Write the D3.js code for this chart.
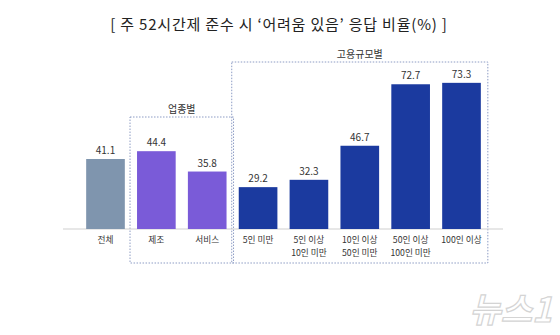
<!DOCTYPE html>
<html><head><meta charset="utf-8">
<script src="https://cdn.jsdelivr.net/npm/d3@7"></script>
<style>body{margin:0;background:#fff}svg{display:block}</style>
</head><body>
<svg id="c" width="560" height="335"></svg>
<script>
const title = "[ 주 52시간제 준수 시 ‘어려움 있음’ 응답 비율(%) ]";
const categories = ["전체", "제조", "서비스", "5인 미만", "5인 이상\n10인 미만", "10인 이상\n50인 미만", "50인 이상\n100인 미만", "100인 이상"];
const values = [41.1, 44.4, 35.8, 29.2, 32.3, 46.7, 72.7, 73.3];
const groups = ["전체", "업종별", "업종별", "고용규모별", "고용규모별", "고용규모별", "고용규모별", "고용규모별"];
const groupColors = {"전체": "#7f95ae", "업종별": "#7a5bd8", "고용규모별": "#1b3a9f"};

const svg = d3.select("#c");
const font = "'Noto Sans CJK KR', 'Noto Sans', sans-serif";

svg.append("text").attr("x", 279).attr("y", 30).attr("text-anchor", "middle")
  .attr("font-family", font).attr("font-size", 15).attr("letter-spacing", 0.8)
  .attr("fill", "#222").text(title);

const x = d3.scaleBand().domain(categories).range([76, 491]).paddingInner(0.24).paddingOuter(0.2);
const y = d3.scaleLinear().domain([11.5, 80]).range([229, 67]);

// group boxes
const boxes = [
  {name: "업종별", cats: ["제조", "서비스"], top: 117},
  {name: "고용규모별", cats: categories.slice(3), top: 62}
];
boxes.forEach(b => {
  const x0 = x(b.cats[0]) - 7, x1 = x(b.cats[b.cats.length - 1]) + x.bandwidth() + 7;
  svg.append("rect").attr("x", x0).attr("y", b.top).attr("width", x1 - x0).attr("height", 263 - b.top)
    .attr("fill", "none").attr("stroke", "#8d9cc4").attr("stroke-width", 1).attr("stroke-dasharray", "1.5,1.5");
  svg.append("text").attr("x", (x0 + x1) / 2).attr("y", b.top - 4).attr("text-anchor", "middle")
    .attr("font-family", font).attr("font-size", 10).attr("fill", "#333").text(b.name);
});

// baseline
svg.append("line").attr("x1", 63).attr("x2", 503).attr("y1", y(11.5)).attr("y2", y(11.5))
  .attr("stroke", "#cfcfcf").attr("stroke-width", 1);

svg.selectAll("rect.bar").data(values).join("rect").attr("class", "bar")
  .attr("x", (d, i) => x(categories[i])).attr("width", x.bandwidth())
  .attr("y", d => y(d)).attr("height", d => y(11.5) - y(d))
  .attr("fill", (d, i) => groupColors[groups[i]]);

svg.selectAll("text.val").data(values).join("text").attr("class", "val")
  .attr("x", (d, i) => x(categories[i]) + x.bandwidth() / 2).attr("y", d => y(d) - 5)
  .attr("text-anchor", "middle").attr("font-family", font).attr("font-size", 10).attr("fill", "#333")
  .text(d => d.toFixed(1));

categories.forEach((c, i) => {
  c.split("\n").forEach((line, j) => {
    svg.append("text").attr("x", x(c) + x.bandwidth() / 2).attr("y", 243 + j * 12.8)
      .attr("text-anchor", "middle").attr("font-family", font).attr("font-size", 8.7).attr("fill", "#333")
      .text(line);
  });
});

// watermark
svg.append("text").attr("x", 552).attr("y", 322).attr("text-anchor", "end")
  .attr("font-family", font).attr("font-size", 34).attr("font-weight", "bold").attr("font-style", "italic")
  .attr("fill", "#ffffff").attr("stroke", "#d4d4d4").attr("stroke-width", 1.2).text("뉴스1");
</script>
</body></html>
